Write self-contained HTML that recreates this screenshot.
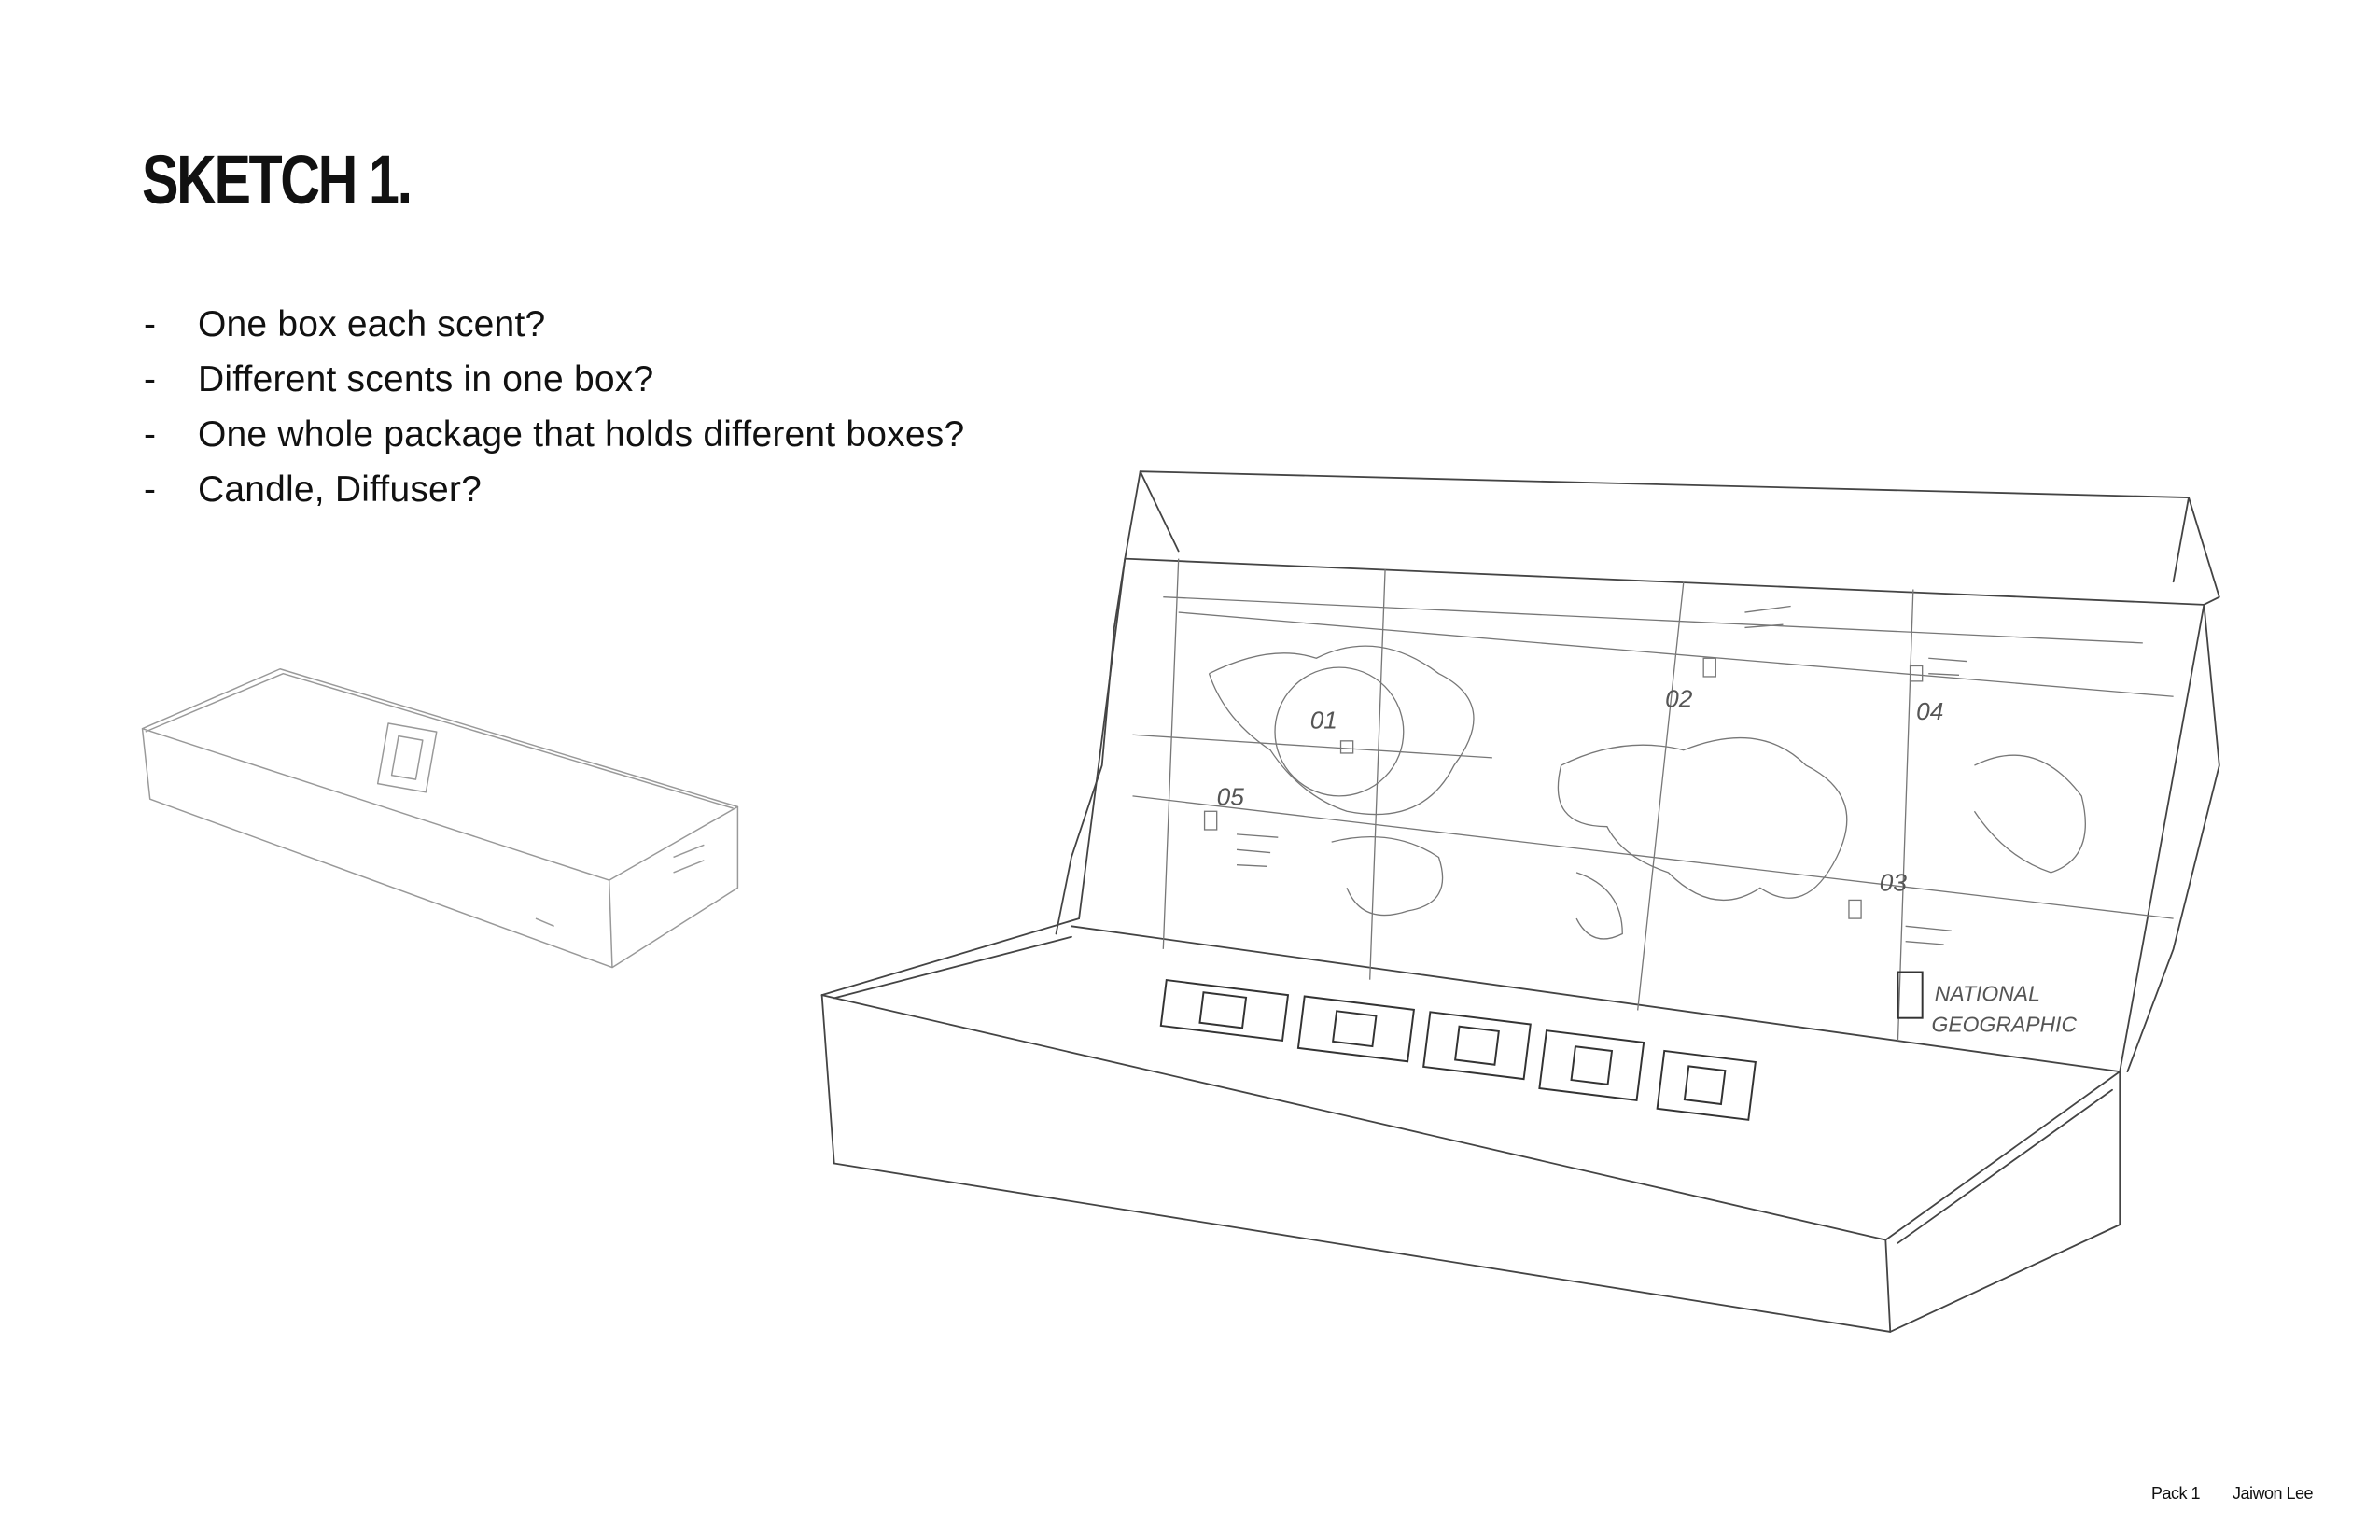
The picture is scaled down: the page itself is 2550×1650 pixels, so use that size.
<!DOCTYPE html>
<html><head><meta charset="utf-8">
<style>
html,body{margin:0;padding:0;background:#fff;}
body{width:2550px;height:1650px;position:relative;overflow:hidden;font-family:"Liberation Sans",sans-serif;color:#111;}
.title{position:absolute;left:152px;top:150px;font-size:74px;font-weight:bold;letter-spacing:-3px;transform:scaleX(0.80);transform-origin:left top;white-space:nowrap;}
.li{position:absolute;left:154px;font-size:39px;letter-spacing:0.2px;white-space:nowrap;}
.li span{position:absolute;left:58px;}
.foot{position:absolute;top:1590px;font-size:18px;letter-spacing:-0.5px;}
svg{position:absolute;left:0;top:0;}
</style></head><body>
<div class="title">SKETCH 1.</div>
<div class="li" style="top:326px">-<span>One box each scent?</span></div>
<div class="li" style="top:385px">-<span>Different scents in one box?</span></div>
<div class="li" style="top:444px">-<span>One whole package that holds different boxes?</span></div>
<div class="li" style="top:503px">-<span>Candle, Diffuser?</span></div>
<div class="foot" style="left:2305px">Pack 1</div>
<div class="foot" style="left:2392px">Jaiwon Lee</div>
<svg width="2550" height="1650" viewBox="0 0 1555 1006" preserveAspectRatio="none">
<g fill="none" stroke="#999" stroke-width="0.9" stroke-linejoin="round">
<path d="M93 476 L183 437 L482 527 L398 575 Z"/>
<path d="M93 476 L98 522 L400 632 L482 580 L482 527 M398 575 L400 632"/>
<path d="M95 478 L185 440 L479 528"/>
<rect x="250" y="475" width="32" height="40" transform="rotate(10 266 495)"/>
<rect x="258" y="482" width="16" height="26" transform="rotate(10 266 495)"/>
<path d="M440 560 L460 552 M440 570 L460 562 M350 600 L362 605"/>
</g>
<g fill="none" stroke="#444" stroke-width="1.1" stroke-linejoin="round" stroke-linecap="round">
<path d="M537 650 L545 760 L1235 870 L1385 800 L1385 700"/>
<path d="M537 650 L1232 810 L1385 700"/>
<path d="M1232 810 L1235 870"/>
<path d="M537 650 L705 600"/>
<path d="M545 652 L700 612 M1240 812 L1380 712"/>
<path d="M705 600 L735 365 L1440 395 L1385 700"/>
<path d="M735 365 L745 308 L1430 325 L1450 390 L1440 395"/>
<path d="M745 308 L770 360 M1430 325 L1420 380"/>
<path d="M690 610 L700 560 L720 500 L728 410 L735 365"/>
<path d="M1440 395 L1450 500 L1420 620 L1390 700"/>
<path d="M700 605 L1385 700"/>
</g>
<g fill="none" stroke="#777" stroke-width="0.8">
<path d="M770 365 L760 620 M905 372 L895 640 M1100 380 L1070 660 M1250 385 L1240 680"/>
<path d="M770 400 L1420 455 M740 480 L975 495 M740 520 L1420 600 M760 390 L1400 420"/>
<circle cx="875" cy="478" r="42"/>
<path d="M790 440 Q830 420 860 430 Q900 410 940 440 Q980 460 950 500 Q930 540 880 530 Q850 520 830 490 Q800 470 790 440"/>
<path d="M870 550 Q910 540 940 560 Q950 590 920 595 Q890 605 880 580"/>
<path d="M1020 500 Q1060 480 1100 490 Q1150 470 1180 500 Q1220 520 1200 560 Q1180 600 1150 580 Q1120 600 1090 570 Q1060 560 1050 540 Q1010 540 1020 500"/>
<path d="M1030 570 Q1060 580 1060 610 Q1040 620 1030 600"/>
<path d="M1290 500 Q1330 480 1360 520 Q1370 560 1340 570 Q1310 560 1290 530"/>
<path d="M1140 400 L1170 396 M1140 410 L1165 408 M1260 430 L1285 432 M1260 440 L1280 441 M808 545 L835 547 M808 555 L830 557 M808 565 L828 566 M1245 605 L1275 608 M1245 615 L1270 617"/>
<rect x="876" y="484" width="8" height="8"/>
<rect x="1113" y="430" width="8" height="12"/>
<rect x="1248" y="435" width="8" height="10"/>
<rect x="787" y="530" width="8" height="12"/>
<rect x="1208" y="588" width="8" height="12"/>
</g>
<g fill="none" stroke="#333" stroke-width="1.2">
<rect x="1240" y="635" width="16" height="30"/>
<g transform="rotate(7 800 660)"><rect x="760" y="645" width="80" height="30"/><rect x="785" y="650" width="28" height="20"/></g>
<g transform="rotate(7 885 672)"><rect x="850" y="655" width="72" height="34"/><rect x="872" y="662" width="26" height="20"/></g>
<g transform="rotate(7 965 683)"><rect x="932" y="665" width="66" height="36"/><rect x="952" y="672" width="26" height="22"/></g>
<g transform="rotate(7 1040 695)"><rect x="1008" y="677" width="64" height="38"/><rect x="1028" y="685" width="24" height="22"/></g>
<g transform="rotate(7 1115 708)"><rect x="1085" y="690" width="60" height="38"/><rect x="1102" y="698" width="24" height="22"/></g>
</g>
<g font-family="Liberation Sans, sans-serif" fill="#555" font-style="italic" font-size="16">
<text x="856" y="476">01</text>
<text x="1088" y="462">02</text>
<text x="1252" y="470">04</text>
<text x="795" y="526">05</text>
<text x="1228" y="582">03</text>
<text x="1264" y="654" font-size="14">NATIONAL</text>
<text x="1262" y="674" font-size="14">GEOGRAPHIC</text>
</g>
</svg>
</body></html>
